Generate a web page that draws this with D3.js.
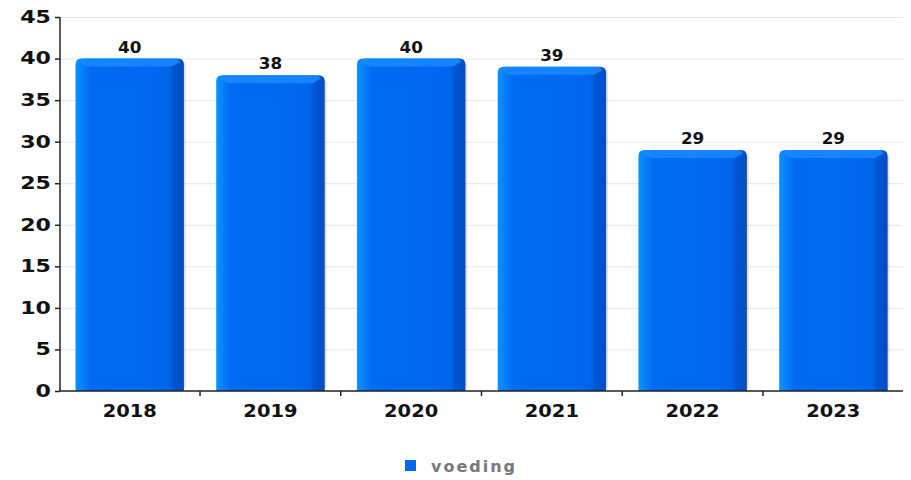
<!DOCTYPE html>
<html>
<head>
<meta charset="utf-8">
<script src="https://cdn.jsdelivr.net/npm/d3@7"></script>
<style>
  body { margin: 0; background: #fff; }
  svg { display: block; font-family: "DejaVu Sans", sans-serif; }
</style>
</head>
<body>
<svg id="chart" width="911" height="480"></svg>
<script>
const years = ["2018", "2019", "2020", "2021", "2022", "2023"];
const values = [40, 38, 40, 39, 29, 29];
const yTicks = [0, 5, 10, 15, 20, 25, 30, 35, 40, 45];
const seriesName = "voeding";

const svg = d3.select("#chart");
const margin = { top: 17, right: 8, bottom: 89, left: 60 };
const width = 911, height = 480;
const innerW = width - margin.left - margin.right;
const innerH = height - margin.top - margin.bottom;

const g = svg.append("g").attr("transform", `translate(${margin.left},${margin.top})`);

const x = d3.scaleBand().domain(years).range([0, innerW]).paddingInner(0.23).paddingOuter(0.11);
const y = d3.scaleLinear().domain([0, 45]).range([innerH, 0]);

// gradients
const defs = svg.append("defs");
const grad = defs.append("linearGradient").attr("id", "barGrad").attr("x1", 0).attr("x2", 1).attr("y1", 0).attr("y2", 0);
grad.append("stop").attr("offset", "0%").attr("stop-color", "#0a93ff");
grad.append("stop").attr("offset", "14%").attr("stop-color", "#006af2");
grad.append("stop").attr("offset", "84%").attr("stop-color", "#0066ee");
grad.append("stop").attr("offset", "100%").attr("stop-color", "#004cbc");

// grid
g.selectAll(".grid").data(yTicks.slice(1)).join("line")
  .attr("x1", 0).attr("x2", innerW)
  .attr("y1", d => y(d) + 0.5).attr("y2", d => y(d) + 0.5)
  .attr("stroke", "#e6e6e6");

// bars
const bars = g.selectAll(".bar").data(values).join("g")
  .attr("transform", (d, i) => `translate(${x(years[i])},${y(d)})`);

const bw = x.bandwidth();
const r = 6;

// shadow
bars.append("rect")
  .attr("x", 2).attr("y", 2)
  .attr("width", bw).attr("height", d => innerH - y(d) - 2)
  .attr("rx", r).attr("fill", "#000").attr("opacity", 0.12);

bars.append("path")
  .attr("d", d => {
    const h = innerH - y(d);
    return `M0,${h} V${r} Q0,0 ${r},0 H${bw - r} Q${bw},0 ${bw},${r} V${h} Z`;
  })
  .attr("fill", "url(#barGrad)");

// top bevel
bars.append("path")
  .attr("d", `M${r * 0.6},${r * 0.6} Q${r},0 ${r + 2},0 H${bw - r - 2} Q${bw - r},0 ${bw - r * 0.6},${r * 0.6} L${bw - 12},8 H12 Z`)
  .attr("fill", "#1a8cff").attr("opacity", 0.8);

// right bevel
bars.append("path")
  .attr("d", d => {
    const h = innerH - y(d);
    return `M${bw - r * 0.6},${r * 0.6} L${bw - 12},8 V${h} H${bw} V${r} Z`;
  })
  .attr("fill", "#0050c8").attr("opacity", 0.55);

// value labels
g.selectAll(".val").data(values).join("text")
  .attr("transform", (d, i) => `translate(${x(years[i]) + bw / 2},${y(d) - 6}) scale(1.05,1)`)
  .attr("text-anchor", "middle")
  .attr("font-size", 16).attr("font-weight", "bold").attr("fill", "#111")
  .text(d => d);

// y axis
const yAxis = g.append("g")
  .call(d3.axisLeft(y).tickValues(yTicks).tickSize(5).tickPadding(2));
yAxis.select(".domain").attr("stroke", "#222").attr("stroke-width", 1.5).attr("d", `M0,0V${innerH}`);
yAxis.selectAll(".tick line").attr("stroke", "#222").attr("stroke-width", 1.5);
yAxis.selectAll("text").attr("font-size", 17).attr("font-weight", "bold").attr("fill", "#111")
  .attr("font-family", "DejaVu Sans").attr("transform", "scale(1.3,1)");

// x axis
const xAxis = g.append("g").attr("transform", `translate(0,${innerH})`);
xAxis.append("line").attr("x1", 0).attr("x2", innerW).attr("stroke", "#222").attr("stroke-width", 1.5);
const step = x.step();
const bounds = d3.range(years.length + 1).map(i => x(years[0]) - x.paddingInner() * step / 2 + i * step);
xAxis.selectAll(".xt").data(bounds.slice(1, -1)).join("line")
  .attr("x1", d => d).attr("x2", d => d).attr("y1", 0).attr("y2", 5)
  .attr("stroke", "#222").attr("stroke-width", 1.5);
xAxis.selectAll(".xl").data(years).join("text")
  .attr("transform", d => `translate(${x(d) + bw / 2},26) scale(1.08,1)`)
  .attr("text-anchor", "middle")
  .attr("font-size", 18).attr("font-weight", "bold").attr("fill", "#111")
  .text(d => d);

// legend
const leg = svg.append("g").attr("transform", "translate(405,460)");
leg.append("rect").attr("width", 11).attr("height", 11).attr("fill", "#0066ee");
leg.append("text").attr("x", 26).attr("y", 12)
  .attr("font-size", 16).attr("font-weight", "bold").attr("fill", "#777")
  .attr("letter-spacing", 2)
  .text(seriesName);
</script>
</body>
</html>
